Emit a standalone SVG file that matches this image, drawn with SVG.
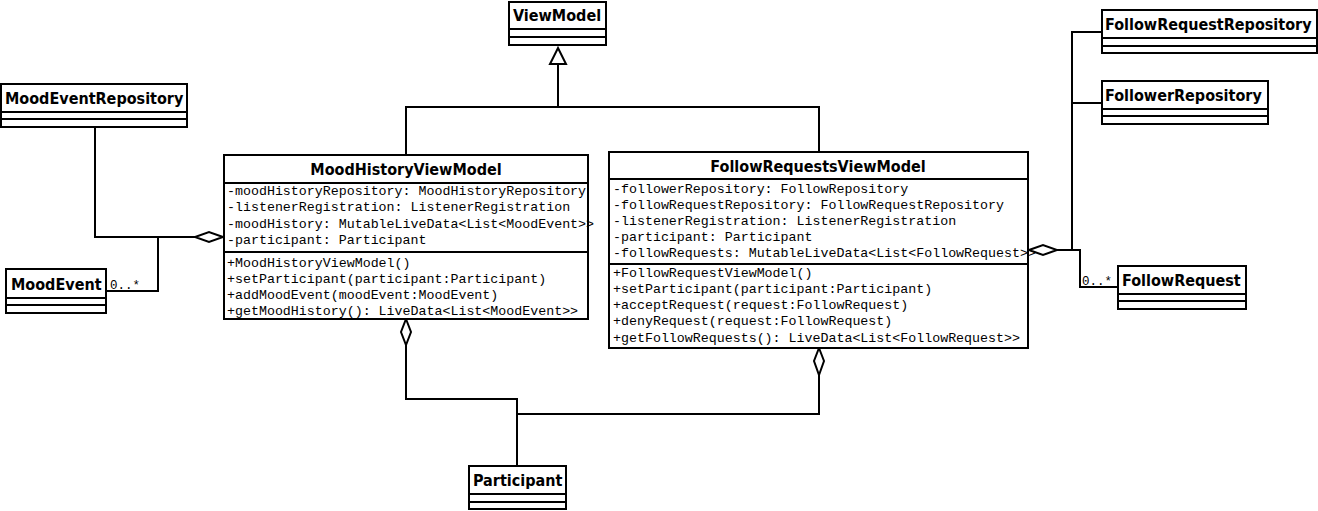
<svg xmlns="http://www.w3.org/2000/svg" width="1318" height="511" viewBox="0 0 1318 511">
<style>
.box{fill:#fff;stroke:#000;stroke-width:2}
.div{stroke:#000;stroke-width:2;fill:none}
.t{font-family:"DejaVu Sans Condensed","DejaVu Sans",sans-serif;font-weight:bold;font-size:16px;fill:#000}
.tc{text-anchor:middle}
.m{font-family:"Liberation Mono","Courier New",monospace;font-size:13.3px;fill:#000}
.lbl{font-family:"Liberation Mono","Courier New",monospace;font-size:12.5px;fill:#000}
.c{fill:none;stroke:#000;stroke-width:2}
.dia{fill:#fff;stroke:#000;stroke-width:2}
</style>
<g id="connectors">
<path class="c" d="M406,155 V107 H819 V152"/>
<path class="c" d="M558,107 V64"/>
<polygon class="dia" points="558,48 566,64 550,64"/>
<path class="c" d="M95,127 V237 H195"/>
<path class="c" d="M106,291 H158 V237"/>
<polygon class="dia" points="223,237 209,232 195,237 209,242"/>
<text class="lbl" x="110" y="289">0..*</text>
<path class="c" d="M1102,32 H1072 V250"/>
<path class="c" d="M1102,103 H1072"/>
<path class="c" d="M1057,250 H1080 V287 H1118"/>
<polygon class="dia" points="1029,250 1043,245 1057,250 1043,255"/>
<text class="lbl" x="1082" y="285">0..*</text>
<path class="c" d="M406,345 V399 H517 V466"/>
<path class="c" d="M819,375 V414 H517"/>
<polygon class="dia" points="406,319 411,332 406,345 401,332"/>
<polygon class="dia" points="819,348 824,361 819,375 814,361"/>
</g>
<g id="ViewModel">
<rect class="box" x="509" y="2" width="97" height="43"/>
<path class="div" d="M509,29 H606 M509,37 H606"/>
<text class="t" x="513" y="21">ViewModel</text>
</g>
<g id="MoodEventRepository">
<rect class="box" x="1" y="84" width="186" height="43"/>
<path class="div" d="M1,112 H187 M1,119 H187"/>
<text class="t" x="5" y="104">MoodEventRepository</text>
</g>
<g id="FollowRequestRepository">
<rect class="box" x="1102" y="10" width="215" height="43"/>
<path class="div" d="M1102,38 H1317 M1102,46 H1317"/>
<text class="t" x="1105" y="30">FollowRequestRepository</text>
</g>
<g id="FollowerRepository">
<rect class="box" x="1102" y="81" width="166" height="43"/>
<path class="div" d="M1102,109 H1268 M1102,116 H1268"/>
<text class="t" x="1105" y="101">FollowerRepository</text>
</g>
<g id="MoodEvent">
<rect class="box" x="6" y="269" width="100" height="44"/>
<path class="div" d="M6,298 H106 M6,305 H106"/>
<text class="t" x="11" y="290">MoodEvent</text>
</g>
<g id="FollowRequest">
<rect class="box" x="1118" y="266" width="128" height="43"/>
<path class="div" d="M1118,294 H1246 M1118,301 H1246"/>
<text class="t" x="1122" y="286">FollowRequest</text>
</g>
<g id="Participant">
<rect class="box" x="469" y="466" width="97" height="43"/>
<path class="div" d="M469,494 H566 M469,502 H566"/>
<text class="t" x="473" y="486">Participant</text>
</g>
<g id="MoodHistoryViewModel">
<rect class="box" x="224" y="155" width="364" height="164"/>
<path class="div" d="M224,183 H588 M224,252 H588"/>
<text class="t tc" x="406" y="175">MoodHistoryViewModel</text>
<text class="m" x="227" y="195">-moodHistoryRepository: MoodHistoryRepository</text>
<text class="m" x="227" y="211">-listenerRegistration: ListenerRegistration</text>
<text class="m" x="227" y="228">-moodHistory: MutableLiveData&lt;List&lt;MoodEvent&gt;&gt;</text>
<text class="m" x="227" y="244">-participant: Participant</text>
<text class="m" x="227" y="267">+MoodHistoryViewModel()</text>
<text class="m" x="227" y="283">+setParticipant(participant:Participant)</text>
<text class="m" x="227" y="299">+addMoodEvent(moodEvent:MoodEvent)</text>
<text class="m" x="227" y="315">+getMoodHistory(): LiveData&lt;List&lt;MoodEvent&gt;&gt;</text>
</g>
<g id="FollowRequestsViewModel">
<rect class="box" x="609" y="152" width="419" height="196"/>
<path class="div" d="M609,179 H1028 M609,264 H1028"/>
<text class="t tc" x="818" y="172">FollowRequestsViewModel</text>
<text class="m" x="613" y="193">-followerRepository: FollowRepository</text>
<text class="m" x="613" y="209">-followRequestRepository: FollowRequestRepository</text>
<text class="m" x="613" y="225">-listenerRegistration: ListenerRegistration</text>
<text class="m" x="613" y="241">-participant: Participant</text>
<text class="m" x="613" y="257">-followRequests: MutableLiveData&lt;List&lt;FollowRequest&gt;&gt;</text>
<text class="m" x="613" y="277">+FollowRequestViewModel()</text>
<text class="m" x="613" y="293">+setParticipant(participant:Participant)</text>
<text class="m" x="613" y="309">+acceptRequest(request:FollowRequest)</text>
<text class="m" x="613" y="325">+denyRequest(request:FollowRequest)</text>
<text class="m" x="613" y="342">+getFollowRequests(): LiveData&lt;List&lt;FollowRequest&gt;&gt;</text>
</g>
</svg>
